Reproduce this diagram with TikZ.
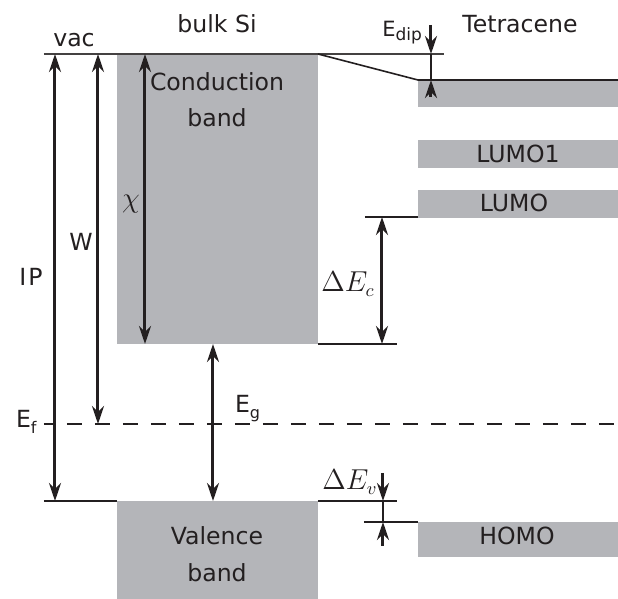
\documentclass[tikz,border=0pt]{standalone}
\usepackage{fontspec}
\setmainfont{DejaVu Sans}
\definecolor{bandgray}{RGB}{180,181,185}
\definecolor{inkdark}{RGB}{35,31,32}
\usetikzlibrary{arrows.meta}
\newcommand{\lowsub}[1]{\raisebox{-0.45ex}{\fontsize{8}{9}\selectfont #1}}

\begin{document}
\begin{tikzpicture}[x=0.5pt, y=-0.5pt, font=\fontsize{11.8}{14}\selectfont, text=inkdark,
    level/.style={line width=1pt, draw=inkdark},
    gap/.style={line width=1.5pt, draw=inkdark, {Stealth[length=9pt,width=6pt,inset=3pt]}-{Stealth[length=9pt,width=6pt,inset=3pt]}},
    pin/.style={line width=1.5pt, draw=inkdark, -{Stealth[length=9pt,width=6pt,inset=3pt]}},
    mathlbl/.style={font=\fontsize{13.5}{15}\selectfont}]
        \useasboundingbox (0,0) rectangle (618,599);

        % bulk Si bands
        \fill[bandgray] (117,54) rectangle (318,344);
        \fill[bandgray] (117,501) rectangle (318,599);
        \node[anchor=base] (cb1) at (217,91) {Conduction};
        \node[anchor=base] (cb2) at (217,127) {band};
        \node[anchor=base] (vb1) at (217,545) {Valence};
        \node[anchor=base] (vb2) at (217,582) {band};

        % tetracene levels
        \fill[bandgray] (418,80) rectangle (618,107);
        \fill[bandgray] (418,140) rectangle (618,168);
        \fill[bandgray] (418,190) rectangle (618,218);
        \fill[bandgray] (418,522) rectangle (618,557);
        \node[anchor=base] (lumoone) at (518,163) {LUMO1};
        \node[anchor=base] (lumo) at (514,212) {LUMO};
        \node[anchor=base] (homo) at (517,545) {HOMO};

        % headings
        \node[anchor=base] (bulk) at (217,33) {bulk Si};
        \node[anchor=base] (tetra) at (520,33) {Tetracene};
        \node[anchor=base] (vac) at (74,47) {vac};

        % level lines
        \coordinate (vacL) at (44,54);
        \coordinate (vacR) at (444,54);
        \coordinate (cbT) at (318,54);
        \coordinate (tetT) at (418,80);
        \coordinate (tetR) at (618,80);
        \coordinate (cbB) at (318,344);
        \coordinate (cbBR) at (397,344);
        \coordinate (lumoL) at (365,217);
        \coordinate (lumoR) at (418,217);
        \coordinate (vbL) at (44,501);
        \coordinate (vbLR) at (117,501);
        \coordinate (vbT) at (318,501);
        \coordinate (vbTR) at (397,501);
        \coordinate (homoL) at (364,522);
        \coordinate (homoR) at (418,522);
        \coordinate (efL) at (44,424);
        \coordinate (efR) at (618,424);

        \draw[line width=0.8pt, draw=inkdark!85] (vacL) -- (vacR);
        \draw[line width=0.8pt, draw=inkdark] (cbT) -- (tetT) -- (tetR);
        \draw[level] (cbB) -- (cbBR);
        \draw[level] (lumoL) -- (lumoR);
        \draw[level] (vbL) -- (vbLR);
        \draw[level] (vbT) -- (vbTR);
        \draw[level] (homoL) -- (homoR);
        \draw[line width=1pt, draw=inkdark, dash pattern=on 7.5pt off 6.5pt, dash phase=2.5pt] (efL) -- (efR);

        % energy gaps
        \draw[gap] (55,54) -- (55,501);
        \draw[gap] (98,54) -- (98,424);
        \draw[gap] (145,54) -- (145,344);
        \draw[gap] (213,344) -- (213,501);
        \draw[gap] (382,217) -- (382,344);

        \node (ip) at (31,277) {I\kern1pt P};
        \node (wf) at (81,242) {W};
        \node[mathlbl] (chi) at (131,204) {$\chi$};
        \node[anchor=base west] (eg) at (228,413) {E\lowsub{g}};
        \node[anchor=base west] (ef) at (9,428) {E\lowsub{f}};
        \node[mathlbl, anchor=base] (dec) at (348,292) {$\Delta E_c$};

        % interface dipole and valence offset
        \coordinate (dipT) at (431,25);
        \coordinate (dipB) at (431,97);
        \draw[pin] (dipT) -- (431,54);
        \draw[line width=1.2pt, draw=inkdark] (431,54) -- (431,80);
        \draw[pin] (dipB) -- (431,80);
        \node[anchor=base west, inner sep=0pt, font=\fontsize{10.5}{12}\selectfont] (edip) at (382,37) {E\raisebox{-0.3ex}{\fontsize{8.5}{9}\selectfont dip}};

        \coordinate (devT) at (383,473);
        \coordinate (devB) at (383,546);
        \draw[pin] (devT) -- (383,501);
        \draw[line width=1.2pt, draw=inkdark] (383,501) -- (383,522);
        \draw[pin] (devB) -- (383,522);
        \node[mathlbl, anchor=base] (dev) at (350,490) {$\Delta E_v$};
    \end{tikzpicture}
\end{document}
